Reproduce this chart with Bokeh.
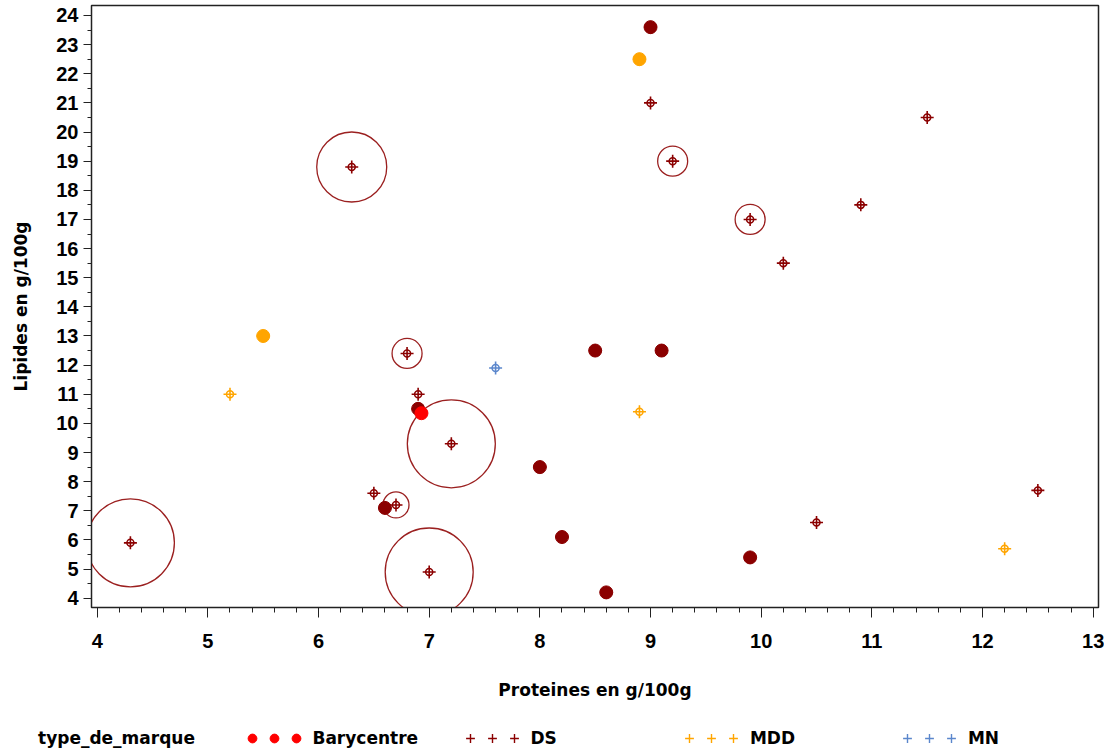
from bokeh.plotting import figure
from bokeh.models import Range1d, SingleIntervalTicker, Legend, LegendItem
from bokeh.embed import file_html
from bokeh.resources import INLINE

# ---------------- data ----------------
# DS
ds_prot = [4.3, 6.3, 9.2, 9.9, 6.8, 7.2, 6.7, 7.0, 10.9, 10.2, 11.5, 9.0, 9.0,
           8.5, 9.1, 6.9, 6.9, 8.0, 6.5, 6.6, 8.2, 8.6, 9.9, 10.5, 12.5]
ds_lip = [5.9, 18.8, 19.0, 17.0, 12.4, 9.3, 7.2, 4.9, 17.5, 15.5, 20.5, 21.0, 23.6,
          12.5, 12.5, 11.0, 10.5, 8.5, 7.6, 7.1, 6.1, 4.2, 5.4, 6.6, 7.7]
# bubble weight (0 = no bubble)
ds_bulle = [8.8, 7.0, 3.0, 3.0, 3.0, 8.8, 2.6, 8.8, 0, 0, 0, 0, 0,
            0, 0, 0, 0, 0, 0, 0, 0, 0, 0, 0, 0]
# number of superposed observations
ds_n = [1, 1, 1, 1, 1, 1, 1, 1, 1, 1, 1, 1, 2,
        2, 2, 1, 2, 2, 1, 2, 2, 2, 2, 1, 1]

# MDD
mdd_prot = [8.9, 5.5, 5.2, 8.9, 12.2]
mdd_lip = [22.5, 13.0, 11.0, 10.4, 5.7]
mdd_n = [2, 2, 1, 1, 1]

# MN
mn_prot = [7.6]
mn_lip = [11.9]

# Barycentre
bary_prot = [6.93]
bary_lip = [10.35]

legend_title = "type_de_marque"
legend_labels = ["Barycentre", "DS", "MDD", "MN"]

# ---------------- style ----------------
C_DS = "#8B0000"
C_BUB = "#9B2020"
C_MDD = "#FFA500"
C_MN = "#5B87CC"
C_BARY = "#FF0000"
TICK_FONT = "Liberation Sans"
LAB_FONT = "DejaVu Sans"

p = figure(width=1104, height=710,
           x_range=Range1d(3.9485, 13.048), y_range=Range1d(3.681, 24.343),
           output_backend="svg", toolbar_location=None,
           min_border_left=91, min_border_right=6, min_border_top=5,
           min_border_bottom=103)

p.xgrid.visible = False
p.ygrid.visible = False
p.outline_line_color = "#222222"
p.outline_line_width = 1.5
p.background_fill_color = "white"
p.border_fill_color = "white"

p.xaxis.ticker = SingleIntervalTicker(interval=1, num_minor_ticks=5)
p.yaxis.ticker = SingleIntervalTicker(interval=1, num_minor_ticks=2)

for ax in (p.xaxis[0], p.yaxis[0]):
    ax.axis_line_color = "#222222"
    ax.major_tick_line_color = "#222222"
    ax.minor_tick_line_color = "#222222"
    ax.major_tick_in = 0
    ax.minor_tick_in = 0
    ax.major_label_text_font = TICK_FONT
    ax.major_label_text_font_style = "bold"
    ax.major_label_text_font_size = "20px"
    ax.major_label_text_color = "black"
    ax.axis_label_text_font = LAB_FONT
    ax.axis_label_text_font_style = "bold"
    ax.axis_label_text_font_size = "17px"
    ax.axis_label_text_color = "black"

p.xaxis.major_tick_out = 10
p.xaxis.minor_tick_out = 5
p.xaxis.major_label_standoff = 16
p.xaxis.axis_label_standoff = 29
p.xaxis.axis_label = "Proteines en g/100g"

p.yaxis.major_tick_out = 8
p.yaxis.minor_tick_out = 4
p.yaxis.major_label_standoff = 5
p.yaxis.axis_label_standoff = 22
p.yaxis.axis_label = "Lipides en g/100g"
p.yaxis.major_label_orientation = "horizontal"

# ---------------- bubbles ----------------
bx = [x for x, b in zip(ds_prot, ds_bulle) if b > 0]
by = [y for y, b in zip(ds_lip, ds_bulle) if b > 0]
bs = [b * 10 for b in ds_bulle if b > 0]
p.scatter(x=bx, y=by, size=bs, marker="circle", fill_alpha=0,
          line_color=C_BUB, line_width=1.3)

# ---------------- superposed observations ----------------
def blobs(xs, ys, ns, color):
    bxx = [x for x, n in zip(xs, ns) if n > 1]
    byy = [y for y, n in zip(ys, ns) if n > 1]
    if bxx:
        p.scatter(x=bxx, y=byy, size=13, marker="circle", fill_color=color,
                  line_color=color, line_width=1)

blobs(ds_prot, ds_lip, ds_n, C_DS)
blobs(mdd_prot, mdd_lip, mdd_n, C_MDD)

# ---------------- points ----------------
def points(fig, xs, ys, color):
    fig.scatter(x=xs, y=ys, size=7, marker="circle", fill_alpha=0,
                line_color=color, line_width=1.5)
    return fig.scatter(x=xs, y=ys, size=13, marker="cross",
                       line_color=color, line_width=1.6)

points(p, ds_prot, ds_lip, C_DS)
points(p, mdd_prot, mdd_lip, C_MDD)
points(p, mn_prot, mn_lip, C_MN)
p.scatter(x=bary_prot, y=bary_lip, size=13, marker="circle",
          fill_color=C_BARY, line_color=C_BARY)

# ---------------- legend strip (separate root, data kept out of view) ----
leg = figure(width=1104, height=45, x_range=Range1d(100, 101),
             y_range=Range1d(100, 101), output_backend="svg",
             toolbar_location=None, x_axis_location=None, y_axis_location=None,
             min_border=0, outline_line_color=None)
leg.xgrid.visible = False
leg.ygrid.visible = False

l_bary = leg.scatter(x=bary_prot, y=bary_lip, marker="circle",
                     fill_color=C_BARY, line_color=C_BARY)
l_ds = leg.scatter(x=ds_prot, y=ds_lip, marker="cross", line_color=C_DS,
                   line_width=1.4)
l_mdd = leg.scatter(x=mdd_prot, y=mdd_lip, marker="cross", line_color=C_MDD,
                    line_width=1.4)
l_mn = leg.scatter(x=mn_prot, y=mn_lip, marker="cross", line_color=C_MN,
                   line_width=1.4)
l_none = leg.scatter(x=bary_prot, y=bary_lip, marker="circle",
                     fill_alpha=0, line_alpha=0)

def add_legend(items, vx):
    lg = Legend(items=items, location=(vx, 4), orientation="horizontal",
                glyph_width=22, glyph_height=26, label_standoff=0,
                label_width=0, label_height=20, spacing=0, padding=0,
                margin=0, border_line_color=None, background_fill_alpha=0,
                label_text_font=LAB_FONT, label_text_font_style="bold",
                label_text_font_size="17px", label_text_color="black",
                click_policy="none")
    leg.add_layout(lg)

add_legend([LegendItem(label=legend_title, renderers=[l_none])], 16)
for lbl, r, vx in zip(legend_labels, (l_bary, l_ds, l_mdd, l_mn),
                      (240.5, 458.5, 678, 896)):
    add_legend([LegendItem(label="", renderers=[r]),
                LegendItem(label="", renderers=[r]),
                LegendItem(label="\u00a0" + lbl, renderers=[r])], vx)

open("out.html", "w").write(file_html([p, leg], INLINE))
